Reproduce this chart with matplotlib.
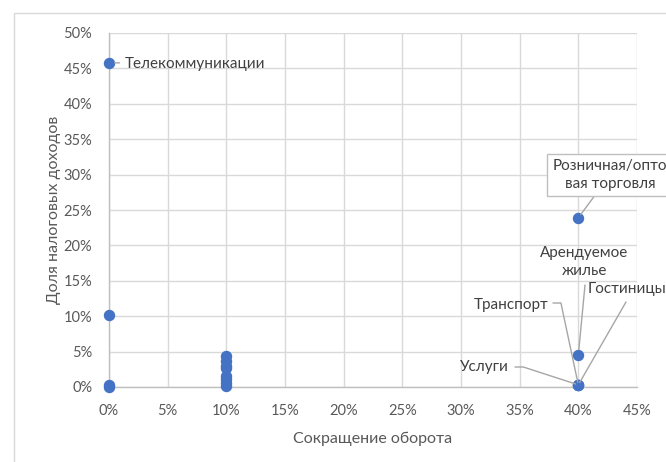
import matplotlib
matplotlib.use("Agg")
import matplotlib.pyplot as plt
from matplotlib.patches import Rectangle
from matplotlib.ticker import PercentFormatter

plt.rcParams['font.family'] = ['Lato', 'DejaVu Sans']

# Data (fractions)
x_vals = [0.0, 0.0, 0.0, 0.0,
          0.10, 0.10, 0.10, 0.10, 0.10, 0.10, 0.10, 0.10,
          0.40, 0.40, 0.40, 0.40, 0.40]
y_vals = [0.458, 0.102, 0.003, 0.0,
          0.044, 0.037, 0.030, 0.027, 0.015, 0.011, 0.006, 0.001,
          0.239, 0.045, 0.003, 0.003, 0.003]

x_ticks = [0, 0.05, 0.10, 0.15, 0.20, 0.25, 0.30, 0.35, 0.40, 0.45]
y_ticks = [0, 0.05, 0.10, 0.15, 0.20, 0.25, 0.30, 0.35, 0.40, 0.45, 0.50]

lbl_telecom = "Телекоммуникации"
lbl_retail = "Розничная/опто\nвая торговля"
lbl_rent = "Арендуемое\nжилье"
lbl_hotels = "Гостиницы"
lbl_transport = "Транспорт"
lbl_services = "Услуги"

x_title = "Сокращение оборота"
y_title = "Доля налоговых доходов"

W, H = 666, 462
fig = plt.figure(figsize=(W / 100, H / 100), dpi=100)

# outer chart border
fig.patches.append(Rectangle((14 / W, -0.1), 2, 1 - 13 / H + 0.1,
                             transform=fig.transFigure, fill=False,
                             edgecolor='#D9D9D9', lw=1))

ax = fig.add_axes([109 / W, 1 - 387 / H, (637 - 109) / W, (387 - 33) / H])
ax.set_xlim(0, 0.45)
ax.set_ylim(0, 0.50)
ax.set_xticks(x_ticks)
ax.set_yticks(y_ticks)
ax.xaxis.set_major_formatter(PercentFormatter(1.0, decimals=0))
ax.yaxis.set_major_formatter(PercentFormatter(1.0, decimals=0))
ax.grid(True, color='#D9D9D9', lw=1)
ax.set_axisbelow(True)
for s in ['top', 'right']:
    ax.spines[s].set_visible(False)
for s in ['left', 'bottom']:
    ax.spines[s].set_color('#BFBFBF')
    ax.spines[s].set_linewidth(1)
ax.tick_params(length=0, colors='#595959', labelsize=10.5)
ax.tick_params(axis='x', pad=12)
ax.tick_params(axis='y', pad=12)

ax.scatter(x_vals, y_vals, s=52, color='#4472C4', zorder=3, clip_on=False)

ax.set_xlabel(x_title, fontsize=11.5, color='#595959', labelpad=10)
ax.set_ylabel(y_title, fontsize=11.5, color='#595959', labelpad=2)

tc = '#404040'
lc = '#A6A6A6'
fs = 11


def px(xp, yp):
    return ((xp - 109) / 528 * 0.45, (387 - yp) / 354 * 0.5)


# Telecom
ax.annotate(lbl_telecom, xy=(x_vals[0], y_vals[0]), xytext=px(125, 64),
            ha='left', va='center', fontsize=fs, color=tc,
            arrowprops=dict(arrowstyle='-', color=lc, lw=1, shrinkA=2, shrinkB=4))

# Retail
ax.annotate(lbl_retail, xy=(x_vals[12], y_vals[12]), xytext=px(610, 175),
            ha='center', va='center', fontsize=fs, color=tc, linespacing=1.35,
            bbox=dict(boxstyle='square,pad=0.35', fc='white', ec='#BFBFBF', lw=1),
            arrowprops=dict(arrowstyle='-', color=lc, lw=1, shrinkA=0, shrinkB=3),
            annotation_clip=False)

# Rent
ax.annotate(lbl_rent, xy=(x_vals[13], y_vals[13]), xytext=px(584, 262),
            ha='center', va='center', fontsize=fs, color=tc, linespacing=1.35)
ax.annotate("", xy=(x_vals[13], y_vals[13]), xytext=px(585, 285),
            arrowprops=dict(arrowstyle='-', color=lc, lw=1, shrinkA=0, shrinkB=4))

# Hotels
ax.annotate(lbl_hotels, xy=(x_vals[14], y_vals[14]), xytext=px(588, 289),
            ha='left', va='center', fontsize=fs, color=tc, annotation_clip=False)
ax.annotate("", xy=(x_vals[14], y_vals[14]), xytext=px(626, 302),
            arrowprops=dict(arrowstyle='-', color=lc, lw=1, shrinkA=0, shrinkB=2),
            annotation_clip=False)

# Transport
ax.annotate(lbl_transport, xy=(x_vals[15], y_vals[15]), xytext=px(548, 305),
            ha='right', va='center', fontsize=fs, color=tc)
ax.annotate("", xy=(x_vals[15], y_vals[15]), xytext=px(553, 303),
            arrowprops=dict(arrowstyle='-', color=lc, lw=1, shrinkA=0, shrinkB=2,
                            connectionstyle='angle,angleA=0,angleB=102,rad=0'))

# Services
ax.annotate(lbl_services, xy=(x_vals[16], y_vals[16]), xytext=px(509, 367),
            ha='right', va='center', fontsize=fs, color=tc)
ax.annotate("", xy=(x_vals[16], y_vals[16]), xytext=px(515, 367),
            arrowprops=dict(arrowstyle='-', color=lc, lw=1, shrinkA=0, shrinkB=2,
                            connectionstyle='angle,angleA=0,angleB=162,rad=0'))

fig.savefig("out.png", dpi=100)
